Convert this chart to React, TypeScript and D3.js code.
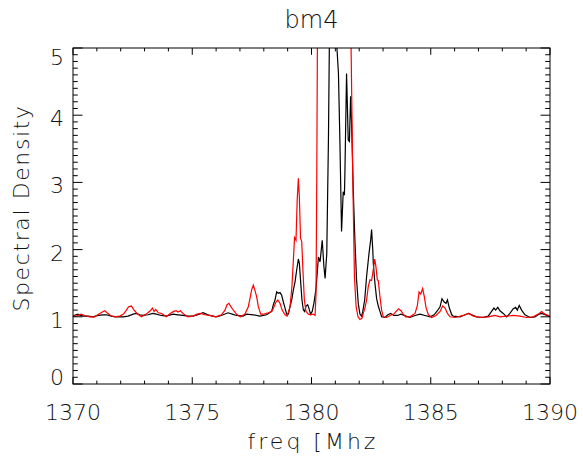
import React from "react";
import * as d3 from "d3";

const title = "bm4";
const xLabel = "freq [Mhz";
const yLabel = "Spectral Density";
const xTicks = [1370, 1375, 1380, 1385, 1390];
const yTicks = [0, 1, 2, 3, 4, 5];

const blackFreq = [
  1370.0, 1370.11, 1370.21, 1370.31, 1370.42, 1370.63, 1370.84, 1371.05, 1371.26, 1371.4, 1371.61, 1371.82,
  1372.1, 1372.31, 1372.52, 1372.66, 1372.8, 1372.93, 1373.14, 1373.35, 1373.49, 1373.7, 1373.91, 1374.19,
  1374.4, 1374.61, 1374.82, 1375.03, 1375.24, 1375.45, 1375.59, 1375.73, 1376.01, 1376.22, 1376.5, 1376.68,
  1376.85, 1377.13, 1377.28, 1377.56, 1377.84, 1378.12, 1378.33, 1378.4, 1378.47, 1378.54, 1378.61, 1378.68,
  1378.75, 1378.82, 1378.89, 1378.96, 1379.03, 1379.1, 1379.17, 1379.24, 1379.31, 1379.38, 1379.45, 1379.49,
  1379.54, 1379.6, 1379.66, 1379.71, 1379.77, 1379.84, 1379.89, 1379.96, 1380.03, 1380.1, 1380.19, 1380.29,
  1380.36, 1380.45, 1380.52, 1380.57, 1380.64, 1380.71, 1380.75, 1380.85, 1380.95, 1381.05, 1381.13, 1381.19,
  1381.26, 1381.33, 1381.38, 1381.4, 1381.47, 1381.54, 1381.59, 1381.64, 1381.68, 1381.75, 1381.82, 1381.89,
  1381.96, 1382.03, 1382.1, 1382.15, 1382.23, 1382.31, 1382.41, 1382.48, 1382.52, 1382.57, 1382.59, 1382.66,
  1382.73, 1382.8, 1382.87, 1382.94, 1383.08, 1383.2, 1383.32, 1383.45, 1383.6, 1383.75, 1383.9, 1384.13,
  1384.34, 1384.55, 1384.76, 1384.97, 1385.14, 1385.28, 1385.39, 1385.47, 1385.56, 1385.64, 1385.7, 1385.78,
  1385.88, 1385.95, 1386.23, 1386.44, 1386.58, 1386.72, 1386.92, 1387.2, 1387.41, 1387.55, 1387.65, 1387.72,
  1387.81, 1387.9, 1388.04, 1388.18, 1388.32, 1388.46, 1388.56, 1388.63, 1388.71, 1388.81, 1388.95, 1389.16,
  1389.37, 1389.55, 1389.65, 1389.79, 1390.0,
];
const blackVal = [
  1.01, 1.03, 1.04, 1.02, 1.01, 1.01, 1.0, 1.02, 1.03, 1.03, 1.01, 1.0,
  1.0, 1.01, 1.04, 1.05, 1.03, 1.02, 1.03, 1.05, 1.04, 1.02, 1.01, 1.04,
  1.03, 1.02, 1.01, 1.01, 1.03, 1.06, 1.04, 1.02, 1.0, 1.02, 1.06, 1.04,
  1.02, 1.01, 1.04, 1.03, 1.01, 1.03, 1.08, 1.18, 1.25, 1.37, 1.35, 1.36,
  1.32, 1.22, 1.13, 1.04, 1.04, 1.15, 1.25, 1.4, 1.52, 1.7, 1.86, 1.8,
  1.55, 1.25, 1.1, 1.08, 1.16, 1.18, 1.13, 1.04, 1.08, 1.2, 1.42, 1.89,
  1.82, 2.14, 1.75, 1.57, 1.94, 3.63, 5.1, 6.5, 6.5, 5.1, 4.62, 3.63,
  2.27, 2.86, 2.81, 3.13, 4.62, 3.63, 3.61, 4.28, 3.88, 2.89, 2.14, 1.55,
  1.2, 1.04, 1.01, 1.08, 1.25, 1.6, 1.94, 2.14, 2.3, 1.99, 1.8, 1.5,
  1.27, 1.16, 1.08, 1.0, 0.99, 1.03, 1.05, 1.02, 1.02, 1.04, 1.02, 0.99,
  1.02, 1.04, 1.02, 1.0, 1.03, 1.09, 1.15, 1.27, 1.22, 1.2, 1.25, 1.13,
  1.03, 1.01, 1.0, 1.03, 1.05, 1.03, 1.0, 0.99, 1.01, 1.08, 1.13, 1.1,
  1.14, 1.09, 1.05, 1.0, 1.05, 1.12, 1.14, 1.1, 1.17, 1.1, 1.03, 0.99,
  1.0, 1.04, 1.05, 1.03, 1.0,
];

const redFreq = [
  1370.0, 1370.14, 1370.35, 1370.49, 1370.7, 1370.91, 1371.09, 1371.23, 1371.33, 1371.43, 1371.57, 1371.75,
  1371.96, 1372.12, 1372.24, 1372.33, 1372.45, 1372.54, 1372.68, 1372.87, 1373.07, 1373.24, 1373.33, 1373.4,
  1373.47, 1373.58, 1373.72, 1373.91, 1374.08, 1374.22, 1374.33, 1374.4, 1374.5, 1374.64, 1374.82, 1375.03,
  1375.2, 1375.34, 1375.52, 1375.73, 1375.98, 1376.22, 1376.36, 1376.46, 1376.54, 1376.62, 1376.74, 1376.88,
  1377.02, 1377.21, 1377.35, 1377.42, 1377.49, 1377.56, 1377.63, 1377.7, 1377.77, 1377.87, 1378.01, 1378.19,
  1378.33, 1378.43, 1378.51, 1378.59, 1378.68, 1378.77, 1378.89, 1378.98, 1379.1, 1379.18, 1379.24, 1379.29,
  1379.35, 1379.4, 1379.45, 1379.49, 1379.54, 1379.59, 1379.64, 1379.7, 1379.77, 1379.87, 1379.96, 1380.07,
  1380.15, 1380.19, 1380.22, 1380.25, 1380.3, 1380.6, 1381.0, 1381.4, 1381.62, 1381.66, 1381.73, 1381.8,
  1381.87, 1381.95, 1382.03, 1382.12, 1382.17, 1382.24, 1382.31, 1382.38, 1382.45, 1382.52, 1382.59, 1382.65,
  1382.7, 1382.76, 1382.8, 1382.87, 1382.94, 1383.01, 1383.15, 1383.3, 1383.45, 1383.55, 1383.65, 1383.75,
  1383.85, 1383.95, 1384.13, 1384.34, 1384.44, 1384.51, 1384.58, 1384.66, 1384.73, 1384.8, 1384.9, 1385.04,
  1385.22, 1385.39, 1385.5, 1385.6, 1385.7, 1385.81, 1386.02, 1386.37, 1386.58, 1386.79, 1387.07, 1387.41,
  1387.69, 1387.9, 1388.18, 1388.46, 1388.74, 1389.02, 1389.3, 1389.51, 1389.65, 1389.79, 1390.0,
];
const redVal = [
  1.01, 1.01, 1.04, 1.02, 1.0, 1.0, 1.04, 1.07, 1.09, 1.06, 1.02, 1.0,
  1.01, 1.04, 1.1, 1.15, 1.16, 1.11, 1.05, 1.0, 1.04, 1.09, 1.13, 1.08,
  1.11, 1.06, 1.05, 1.0, 1.05, 1.08, 1.09, 1.07, 1.09, 1.04, 1.0, 1.01,
  1.04, 1.05, 1.03, 1.02, 1.0, 1.03, 1.09, 1.18, 1.2, 1.15, 1.09, 1.03,
  1.0, 1.04, 1.15, 1.27, 1.4, 1.47, 1.39, 1.3, 1.15, 1.04, 1.04, 1.06,
  1.08, 1.15, 1.22, 1.25, 1.2, 1.1, 1.03, 1.01, 1.15, 1.45, 1.85, 2.18,
  2.14, 2.74, 3.06, 2.79, 2.17, 2.12, 1.7, 1.25, 1.08, 1.04, 1.03, 1.04,
  1.02, 1.35, 3.0, 5.3, 8.0, 12.0, 14.0, 10.0, 6.0, 5.0, 3.1, 1.6,
  1.15, 1.0, 0.96, 0.98, 1.05, 1.13, 1.25, 1.45, 1.55, 1.54, 1.7, 1.86,
  1.75, 1.55, 1.54, 1.3, 1.1, 1.0, 0.99, 1.02, 1.04, 1.08, 1.12, 1.09,
  1.04, 1.0, 1.0, 1.05, 1.17, 1.37, 1.34, 1.42, 1.3, 1.14, 1.03, 0.99,
  1.02, 1.08, 1.16, 1.13, 1.05, 1.0, 0.99, 1.02, 1.05, 1.01, 0.99, 1.0,
  1.02, 1.0, 1.01, 1.02, 1.01, 0.99, 1.0, 1.04, 1.08, 1.04, 1.01,
];

const W = 583;
const H = 462;
const M = { left: 73, right: 550, top: 48, bottom: 384 };
const FONT = "'DejaVu Sans', sans-serif";

export default function App() {
  const x = d3.scaleLinear().domain([1370, 1390]).range([M.left, M.right]);
  const y = d3.scaleLinear().domain([0, 5]).range([M.bottom, M.top]);
  const black = blackFreq.map((f, i) => [f, blackVal[i]] as [number, number]);
  const red = redFreq.map((f, i) => [f, redVal[i]] as [number, number]);
  const line = d3
    .line<[number, number]>()
    .x((d) => x(d[0]))
    .y((d) => y(d[1]));

  const xMinor = d3.range(1370, 1391, 1);
  const yMinor = d3.range(0, 51, 1).map((v) => v / 10);
  const xMajLen = 6.8, xMinLen = 3.4, yMajLen = 9.5, yMinLen = 4.8;
  const textColor = "#111";

  return (
    <svg
      width={W}
      height={H}
      style={{ position: "absolute", left: 0, top: 0, background: "#fff" }}
    >
      <defs>
        <clipPath id="plotclip">
          <rect x={M.left} y={M.top} width={M.right - M.left} height={M.bottom - M.top} />
        </clipPath>
      </defs>
      <g clipPath="url(#plotclip)">
        <path d={line(black) || ""} fill="none" stroke="#000" strokeWidth={1.2} />
        <path d={line(red) || ""} fill="none" stroke="#ff0000" strokeWidth={1.2} />
      </g>
      <g stroke="#000" strokeWidth={1} fill="none">
        <rect x={M.left} y={M.top} width={M.right - M.left} height={M.bottom - M.top} />
        {xMinor.map((v) => {
          const len = v % 5 === 0 ? xMajLen : xMinLen;
          return (
            <g key={"xt" + v}>
              <line x1={x(v)} x2={x(v)} y1={M.bottom} y2={M.bottom - len} />
              <line x1={x(v)} x2={x(v)} y1={M.top} y2={M.top + len} />
            </g>
          );
        })}
        {yMinor.map((v, i) => {
          const len = i % 10 === 0 ? yMajLen : yMinLen;
          return (
            <g key={"yt" + i}>
              <line x1={M.left} x2={M.left + len} y1={y(v)} y2={y(v)} />
              <line x1={M.right} x2={M.right - len} y1={y(v)} y2={y(v)} />
            </g>
          );
        })}
      </g>
      <g fill={textColor} fontFamily={FONT} fontWeight={200}>
        {xTicks.map((v) => (
          <text key={"xl" + v} x={x(v)} y={420} fontSize={22} textAnchor="middle">
            {v}
          </text>
        ))}
        {yTicks.map((v) => {
          const cy = Math.min(Math.max(y(v) + 3, M.top + 8.5), M.bottom - 7.5);
          return (
            <text key={"yl" + v} x={64} y={cy + 8} fontSize={22} textAnchor="end">
              {v}
            </text>
          );
        })}
        <text x={(M.left + M.right) / 2} y={28} fontSize={24} textAnchor="middle">
          {title}
        </text>
        <text
          x={(M.left + M.right) / 2 + 1.5}
          y={449}
          fontSize={22}
          textAnchor="middle"
          letterSpacing={3}
        >
          {xLabel}
        </text>
        <text
          transform={`translate(29, 208) rotate(-90)`}
          fontSize={22}
          textAnchor="middle"
          letterSpacing={1.6}
        >
          {yLabel}
        </text>
      </g>
    </svg>
  );
}
